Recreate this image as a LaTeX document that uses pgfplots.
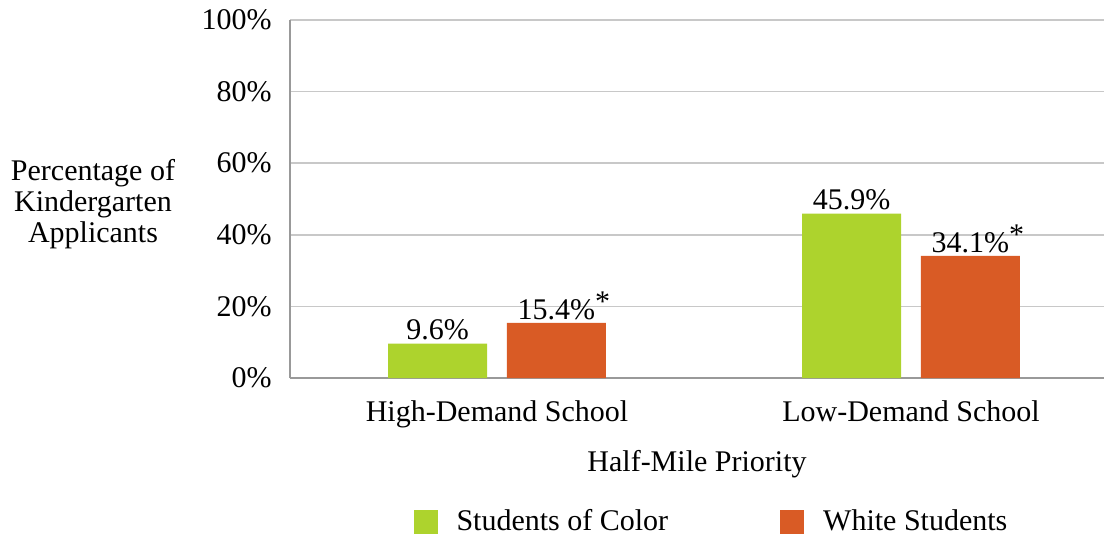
\documentclass[border=0pt]{standalone}
\usepackage{pgfplots}
\pgfplotsset{compat=1.18}
\usepackage{fontspec}
\setmainfont{Liberation Serif}
\definecolor{cgreen}{RGB}{173,211,45}
\definecolor{corange}{RGB}{217,91,37}
\definecolor{cgrid}{RGB}{200,200,200}
\begin{document}
\fontsize{15}{16}\selectfont
\begin{tikzpicture}
\path[use as bounding box] (-145pt,-79pt) rectangle (408pt,189pt);
\begin{axis}[
  at={(0,0)}, anchor=south west,
  scale only axis, width=407pt, height=179pt,
  ybar, bar width=49.5pt, 
  xmin=-0.5, xmax=1.466, ymin=0, ymax=100,
  xtick=data, xticklabels={High-Demand School, Low-Demand School},
  ytick={0,20,40,60,80,100},
  yticklabel={\pgfmathprintnumber{\tick}\%},
  /pgf/number format/assume math mode=true,
  ymajorgrids, grid style={cgrid, line width=0.8pt},
  axis line style={draw=none},
  major tick length=0pt,
  tick label style={font=\fontsize{15}{16}\selectfont},
  yticklabel style={xshift=-4pt},
  xticklabel style={yshift=-6pt},
  xlabel={Half-Mile Priority},
  xlabel style={yshift=-1pt, font=\fontsize{15}{16}\selectfont},
  clip=false,
  enlarge x limits=false,
  nodes near coords style={font=\fontsize{15}{16}\selectfont, inner sep=1.5pt},
  legend style={at={(0.519,-0.402)}, anchor=center, draw=none, legend columns=2,
    font=\fontsize{15}{16}\selectfont,
    /tikz/every even column/.append style={column sep=54pt}},
  legend cell align=left,
]
\draw[gray!80, line width=0.8pt] (rel axis cs:0,0) -- (rel axis cs:0,1);
\draw[gray!80, line width=0.8pt] (rel axis cs:0,0) -- (rel axis cs:1,0);
\addplot[draw=none, fill=cgreen, bar shift=-29.7pt,
  nodes near coords={\pgfmathprintnumber[fixed,precision=1,fixed zerofill,assume math mode=true]{\pgfplotspointmeta}\%},
  area legend, legend image code/.code={\fill[cgreen] (0pt,-6pt) rectangle (12pt,6pt);}]
  coordinates {(0,9.6) (1,45.9)};
\addlegendentry{\hspace{7.5pt}Students of Color}
\addplot[draw=none, fill=corange, bar shift=29.7pt,
  nodes near coords={\pgfmathprintnumber[fixed,precision=1,fixed zerofill,assume math mode=true]{\pgfplotspointmeta}\%\rlap{\raisebox{4pt}{*}}},
  area legend, legend image code/.code={\fill[corange] (0pt,-6pt) rectangle (12pt,6pt);}]
  coordinates {(0,15.4) (1,34.1)};
\addlegendentry{\hspace{7.5pt}White Students}
\node[align=center, font=\fontsize{15}{15.5}\selectfont] at ([xshift=-98.5pt,yshift=-2.5pt]rel axis cs:0,0.5) {Percentage of\\Kindergarten\\Applicants};
\end{axis}
\end{tikzpicture}
\end{document}
